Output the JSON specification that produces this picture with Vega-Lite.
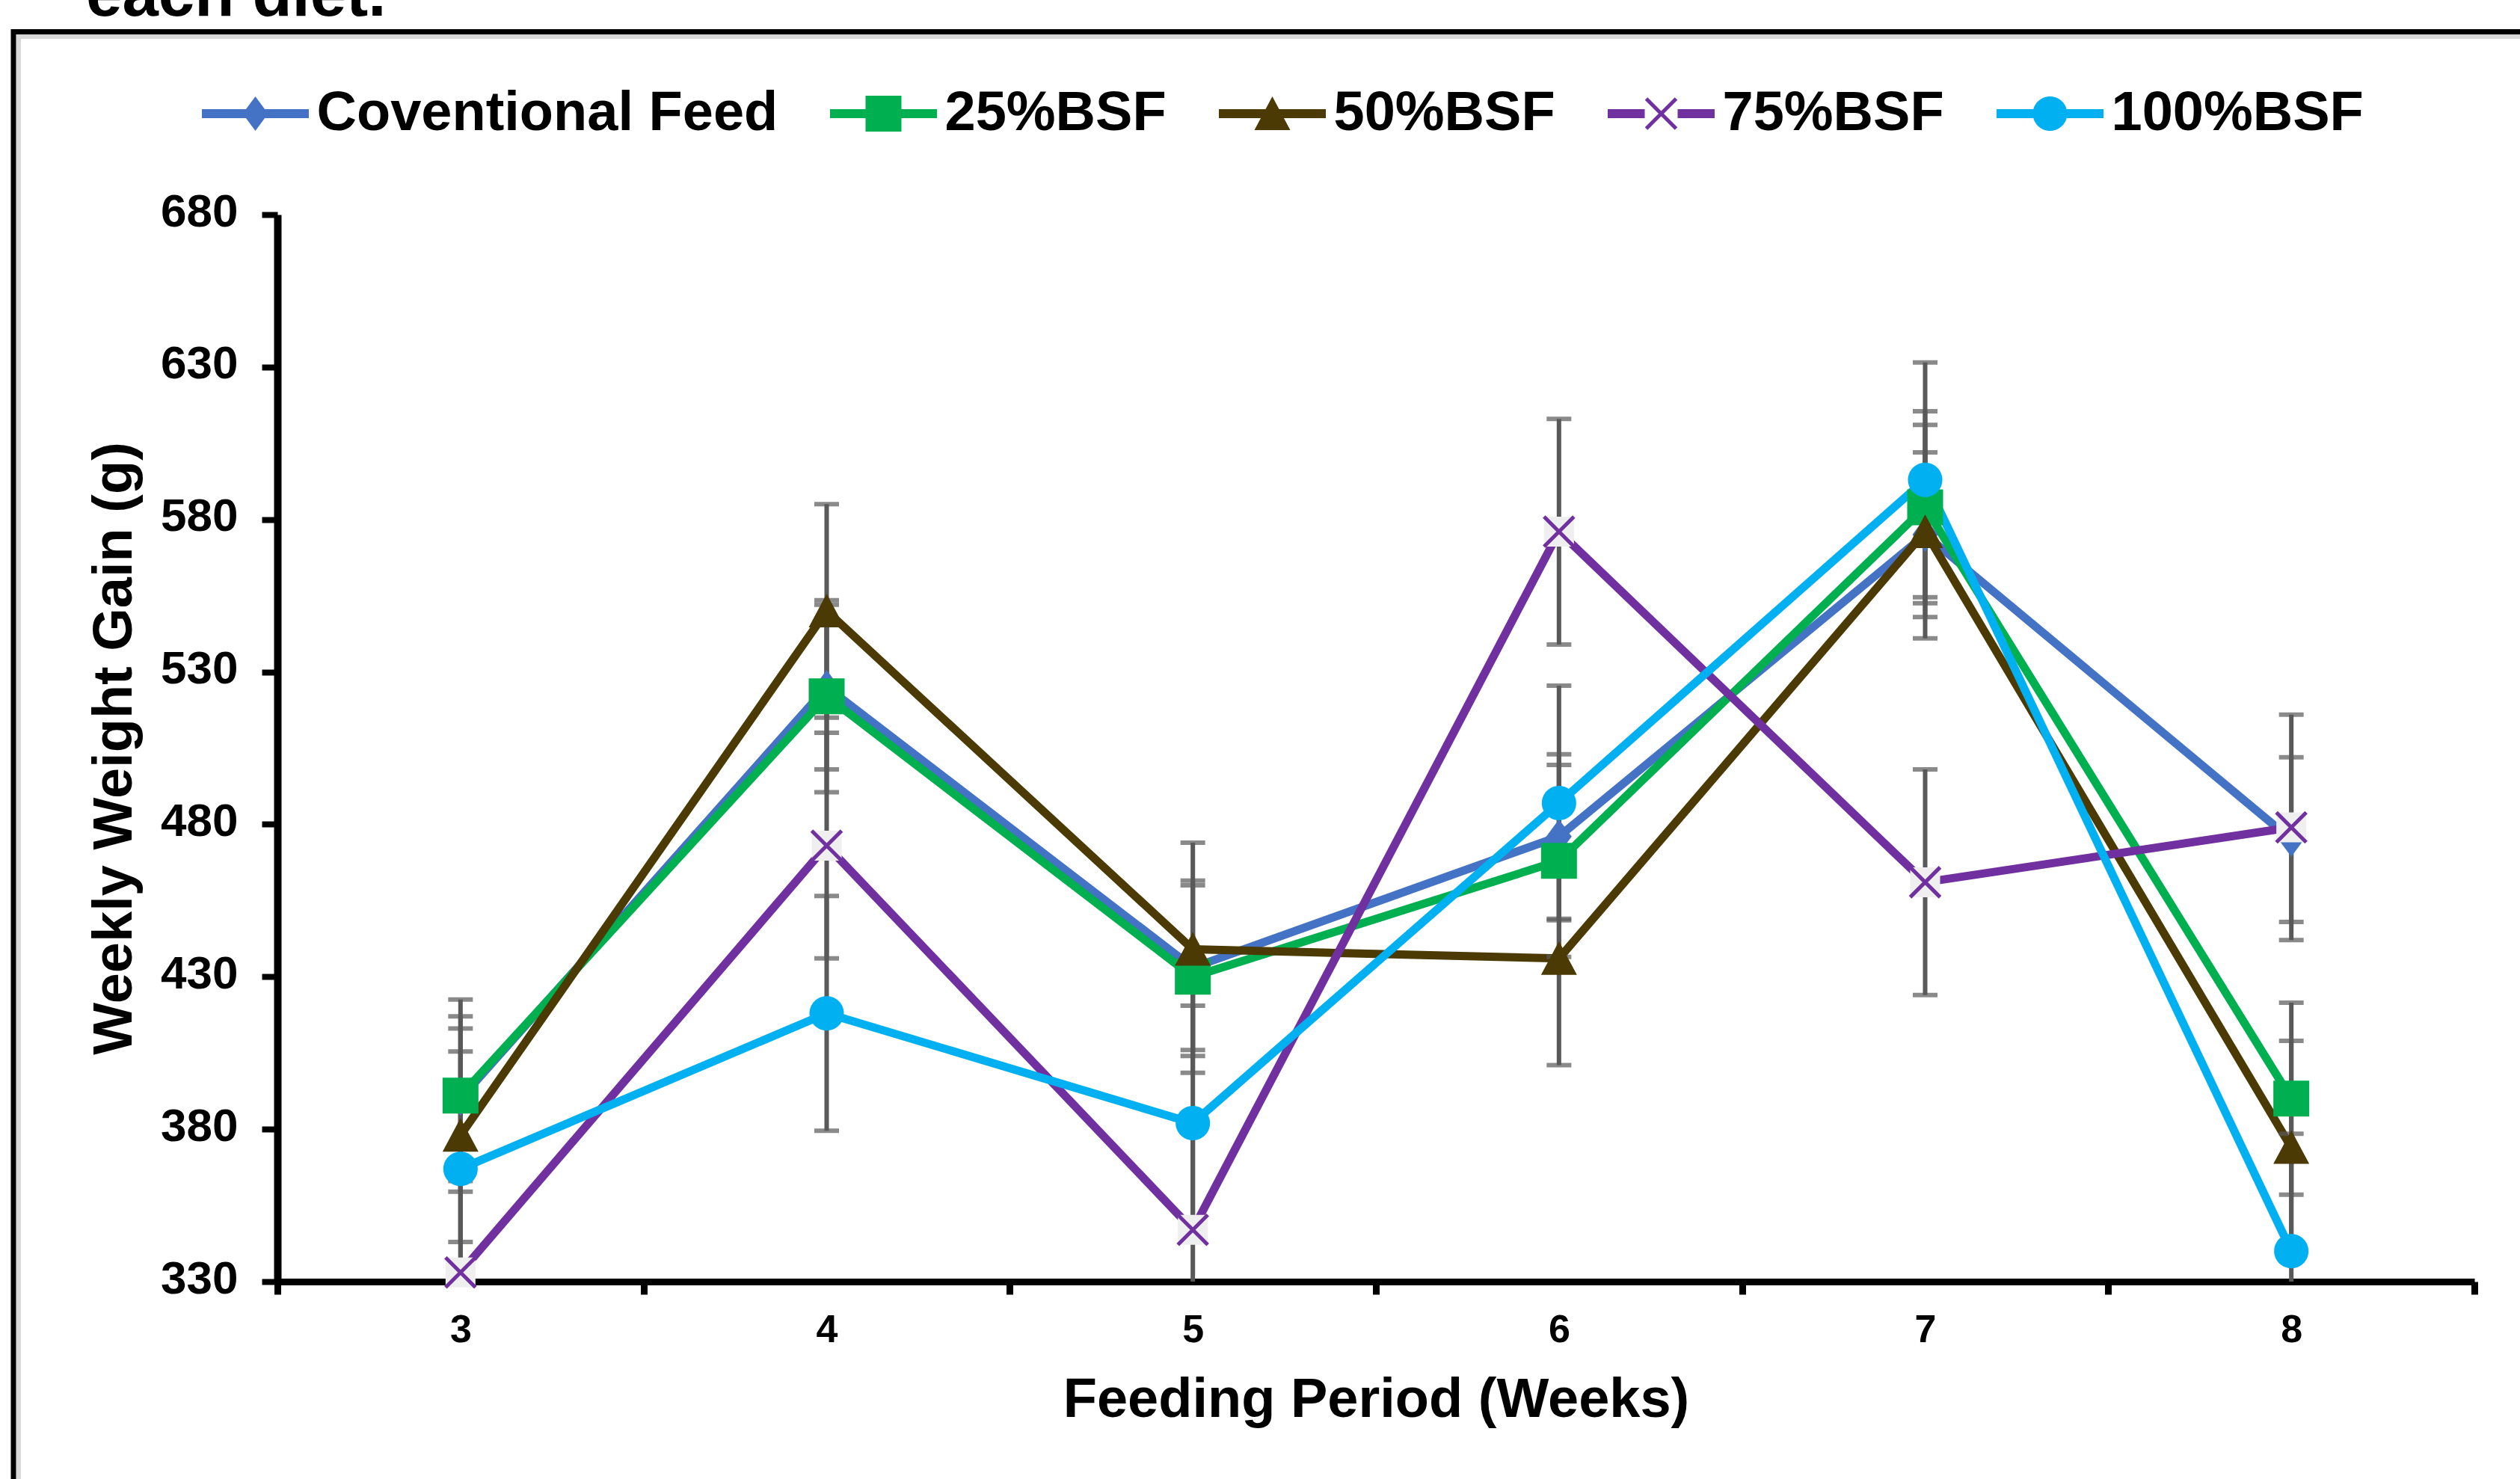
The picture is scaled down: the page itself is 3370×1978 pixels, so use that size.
{
  "$schema": "https://vega.github.io/schema/vega-lite/v6.json",
  "width": 2938,
  "height": 1427,
  "autosize": {"type": "none"},
  "padding": {"left": 371, "top": 287, "right": 61, "bottom": 264},
  "background": "white",
  "config": {"view": {"stroke": null}, "font": "Liberation Sans"},
  "title": {"text": "each diet.", "anchor": "start", "frame": "group", "fontSize": 87, "fontWeight": "bold", "color": "black", "font": "Liberation Sans", "dx": -256, "offset": 0},
  "data": {"values": [
    {"week": 3, "series": "Coventional Feed", "gain": 390, "sd": 27},
    {"week": 4, "series": "Coventional Feed", "gain": 525, "sd": 27},
    {"week": 5, "series": "Coventional Feed", "gain": 433, "sd": 27},
    {"week": 6, "series": "Coventional Feed", "gain": 476, "sd": 27},
    {"week": 7, "series": "Coventional Feed", "gain": 575, "sd": 27},
    {"week": 8, "series": "Coventional Feed", "gain": 475, "sd": 27},
    {"week": 3, "series": "25%BSF", "gain": 391, "sd": 31.5},
    {"week": 4, "series": "25%BSF", "gain": 522, "sd": 31.5},
    {"week": 5, "series": "25%BSF", "gain": 430, "sd": 31.5},
    {"week": 6, "series": "25%BSF", "gain": 468, "sd": 31.5},
    {"week": 7, "series": "25%BSF", "gain": 584, "sd": 31.5},
    {"week": 8, "series": "25%BSF", "gain": 390, "sd": 31.5},
    {"week": 3, "series": "50%BSF", "gain": 378, "sd": 35},
    {"week": 4, "series": "50%BSF", "gain": 550, "sd": 35},
    {"week": 5, "series": "50%BSF", "gain": 439, "sd": 35},
    {"week": 6, "series": "50%BSF", "gain": 436, "sd": 35},
    {"week": 7, "series": "50%BSF", "gain": 576, "sd": 35},
    {"week": 8, "series": "50%BSF", "gain": 374, "sd": 35},
    {"week": 3, "series": "75%BSF", "gain": 333, "sd": 37},
    {"week": 4, "series": "75%BSF", "gain": 473, "sd": 37},
    {"week": 5, "series": "75%BSF", "gain": 347, "sd": 37},
    {"week": 6, "series": "75%BSF", "gain": 576, "sd": 37},
    {"week": 7, "series": "75%BSF", "gain": 461, "sd": 37},
    {"week": 8, "series": "75%BSF", "gain": 479, "sd": 37},
    {"week": 3, "series": "100%BSF", "gain": 367, "sd": 38.5},
    {"week": 4, "series": "100%BSF", "gain": 418, "sd": 38.5},
    {"week": 5, "series": "100%BSF", "gain": 382, "sd": 38.5},
    {"week": 6, "series": "100%BSF", "gain": 487, "sd": 38.5},
    {"week": 7, "series": "100%BSF", "gain": 593, "sd": 38.5},
    {"week": 8, "series": "100%BSF", "gain": 340, "sd": 38.5}
  ]},
  "layer": [
    {
      "data": {"values": [{"frame": "outer"}]},
      "mark": {"type": "rect", "filled": false, "color": "#000000", "strokeWidth": 7, "clip": false},
      "encoding": {
        "x": {"datum": -0.12015, "type": "quantitative", "scale": {"domain": [0, 1], "nice": false, "zero": false}, "axis": null},
        "x2": {"datum": 2},
        "y": {"datum": 1.17134, "type": "quantitative", "scale": {"domain": [0, 1], "nice": false, "zero": false}, "axis": null},
        "y2": {"datum": -1}
      }
    },
    {
      "data": {"values": [{"frame": "inner"}]},
      "mark": {"type": "rect", "filled": false, "color": "#D9D9D9", "strokeWidth": 6, "clip": false},
      "encoding": {
        "x": {"datum": -0.11777, "type": "quantitative", "scale": {"domain": [0, 1], "nice": false, "zero": false}, "axis": null},
        "x2": {"datum": 2},
        "y": {"datum": 1.16678, "type": "quantitative", "scale": {"domain": [0, 1], "nice": false, "zero": false}, "axis": null},
        "y2": {"datum": -1}
      }
    },
    {
      "encoding": {
        "x": {
          "field": "week", "type": "ordinal",
          "scale": {"type": "band", "paddingInner": 0, "paddingOuter": 0},
          "axis": {
            "orient": "bottom", "title": "Feeding Period (Weeks)", "tickBand": "extent", "labelAngle": 0,
            "labelFontSize": 52, "labelFontWeight": "bold", "labelColor": "black", "labelPadding": 22,
            "tickSize": 17, "tickWidth": 9, "tickColor": "black", "domainColor": "black", "domainWidth": 9,
            "titleFontSize": 74, "titleFontWeight": "bold", "titleColor": "black", "titlePadding": 32, "grid": false
          }
        },
        "y": {
          "field": "gain", "type": "quantitative",
          "scale": {"domain": [330, 680], "nice": false, "zero": false},
          "axis": {
            "orient": "left", "title": "Weekly Weight Gain (g)", "values": [330, 380, 430, 480, 530, 580, 630, 680],
            "labelFontSize": 62, "labelFontWeight": "bold", "labelColor": "black", "labelPadding": 32, "labelOffset": -4,
            "tickSize": 21, "tickWidth": 8, "tickColor": "black", "domainColor": "black", "domainWidth": 10,
            "titleFontSize": 74, "titleFontWeight": "bold", "titleColor": "black", "titlePadding": 23, "grid": false
          }
        },
        "color": {
          "field": "series", "type": "nominal",
          "scale": {
            "domain": ["Coventional Feed", "25%BSF", "50%BSF", "75%BSF", "100%BSF"],
            "range": ["#4472C4", "#00B050", "#4B3A04", "#7030A0", "#00B0F0"]
          },
          "legend": {
            "orient": "none", "legendX": -66.5, "legendY": -172, "direction": "horizontal", "columns": 5,
            "title": null, "labelFontSize": 74, "labelFontWeight": "bold", "labelColor": "black",
            "labelOffset": 45, "columnPadding": 69, "rowPadding": 0, "padding": 0, "symbolSize": 4, "labelLimit": 3000,
            "encode": {
              "symbols": {
                "update": {
                  "shape": {"signal": "datum.value === 'Coventional Feed' ? 'M-71.5,-6H71.5V6H-71.5Z M0,-23L17,0L0,23L-17,0Z' : datum.value === '25%BSF' ? 'M-71.5,-6H71.5V6H-71.5Z M-24,-24H24V24H-24Z' : datum.value === '50%BSF' ? 'M-71.5,-6H71.5V6H-71.5Z M0,-23L24,22L-24,22Z' : datum.value === '75%BSF' ? 'M-71.5,-6H-22V6H-71.5Z M22,-6H71.5V6H22Z M-18.23,-21.77L21.77,18.23L18.23,21.77L-21.77,-18.23Z M18.23,-21.77L21.77,-18.23L-18.23,21.77L-21.77,18.23Z' : 'M-71.5,-6H71.5V6H-71.5Z M-23,0A23,23 0 1,1 23,0A23,23 0 1,1 -23,0Z'"},
                  "size": {"value": 4},
                  "fill": {"signal": "scale('color', datum.value)"},
                  "stroke": {"value": "transparent"},
                  "strokeWidth": {"value": 0},
                  "opacity": {"value": 1}
                }
              }
            }
          }
        }
      },
      "layer": [
        {
          "mark": {"type": "line", "strokeWidth": 11, "strokeJoin": "round"},
          "encoding": {}
        },
        {
          "mark": {"type": "errorbar", "ticks": true, "size": 33, "thickness": 6, "color": "#595959", "clip": true},
          "encoding": {"yError": {"field": "sd"}, "color": {"value": "#595959"}}
        },
        {
          "transform": [{"filter": "datum.series === 'Coventional Feed'"}],
          "mark": {"type": "point", "filled": true, "size": 4, "opacity": 1, "strokeWidth": 0, "shape": "M0,-23L17,0L0,23L-17,0Z"},
          "encoding": {}
        },
        {
          "transform": [{"filter": "datum.series === '25%BSF'"}],
          "mark": {"type": "point", "filled": true, "size": 4, "opacity": 1, "strokeWidth": 0, "shape": "M-24,-24H24V24H-24Z"},
          "encoding": {}
        },
        {
          "transform": [{"filter": "datum.series === '50%BSF'"}],
          "mark": {"type": "point", "filled": true, "size": 4, "opacity": 1, "strokeWidth": 0, "shape": "M0,-23L24,22L-24,22Z"},
          "encoding": {}
        },
        {
          "transform": [{"filter": "datum.series === '75%BSF'"}],
          "mark": {"type": "point", "filled": true, "size": 4, "opacity": 1, "strokeWidth": 0, "shape": "M-20,-20H20V20H-20Z"},
          "encoding": {"color": {"value": "#EFEFEF"}}
        },
        {
          "transform": [{"filter": "datum.series === '75%BSF'"}],
          "mark": {"type": "point", "filled": true, "size": 4, "opacity": 1, "strokeWidth": 0, "shape": "M-18.23,-21.77L21.77,18.23L18.23,21.77L-21.77,-18.23Z M18.23,-21.77L21.77,-18.23L-18.23,21.77L-21.77,18.23Z"},
          "encoding": {}
        },
        {
          "transform": [{"filter": "datum.series === '100%BSF'"}],
          "mark": {"type": "point", "filled": true, "size": 4, "opacity": 1, "strokeWidth": 0, "shape": "M-23,0A23,23 0 1,1 23,0A23,23 0 1,1 -23,0Z"},
          "encoding": {}
        }
      ]
    }
  ],
  "resolve": {"scale": {"x": "independent", "y": "independent"}}
}
